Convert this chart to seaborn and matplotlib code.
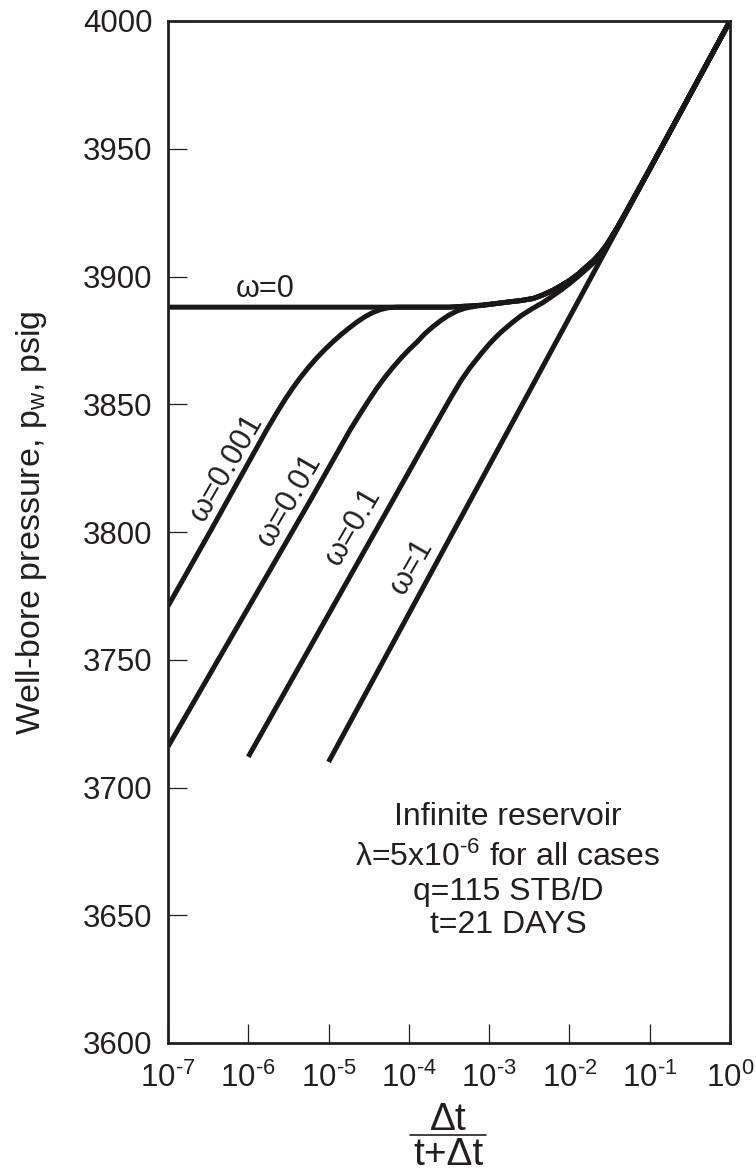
import numpy as np
import pandas as pd
import matplotlib
matplotlib.use("Agg")
import matplotlib.pyplot as plt
import seaborn as sns
from matplotlib.ticker import FixedLocator, FixedFormatter, NullLocator
from matplotlib.lines import Line2D

# ---------------- data ----------------
x_ticks = [1e-7, 1e-6, 1e-5, 1e-4, 1e-3, 1e-2, 1e-1, 1e0]
x_tick_labels = ["$10^{\u20107}$", "$10^{\u20106}$", "$10^{\u20105}$",
                 "$10^{\u20104}$", "$10^{\u20103}$", "$10^{\u20102}$",
                 "$10^{\u20101}$", "$10^{0}$"]
y_ticks = [3600, 3650, 3700, 3750, 3800, 3850, 3900, 3950, 4000]

# shared late-time part (plateau rising onto the straight line)
x_late = [8.51e-4, 1.82e-3, 2.51e-3, 3.55e-3, 4.68e-3, 6.31e-3, 7.94e-3,
          1.02e-2, 1.29e-2, 1.62e-2, 2.0e-2, 2.4e-2, 2.82e-2, 3.31e-2,
          3.98e-2, 5.01e-2, 1e-1, 1e0]
p_late = [3888.8, 3890.1, 3890.6, 3891.4, 3892.8, 3894.7, 3896.5,
          3898.6, 3901, 3903.8, 3906.3, 3909, 3911.8, 3915.2,
          3919.4, 3925, 3942, 4000]

# omega = 0
x_w0 = [1e-7, 3.16e-4] + x_late
p_w0 = [3888, 3888] + p_late

# omega = 0.001
x_w0001 = [1e-7, 3.44e-7, 1.69e-6, 2.24e-6, 2.82e-6, 3.55e-6, 4.47e-6,
           5.62e-6, 7.11e-6, 8.91e-6, 1.12e-5, 1.41e-5, 1.78e-5, 2.24e-5,
           2.82e-5, 3.55e-5, 4.47e-5, 5.62e-5, 7.08e-5, 3.16e-4] + x_late
p_w0001 = [3771, 3800.8, 3839.9, 3846.4, 3851.5, 3856.2, 3860.5,
           3864.4, 3868.1, 3871.3, 3874.3, 3877.1, 3879.7, 3882.1,
           3884.2, 3885.9, 3887.1, 3887.8, 3888, 3888] + p_late

# omega = 0.01
x_w001 = [1e-7, 5.96e-6, 1.85e-5, 2.51e-5, 3.16e-5, 3.98e-5, 5.01e-5,
          6.31e-5, 7.94e-5, 1.0e-4, 1.26e-4, 1.58e-4, 2.0e-4, 2.51e-4,
          3.16e-4, 3.98e-4, 5.01e-4, 6.31e-4] + x_late
p_w001 = [3716, 3812.5, 3839.9, 3846.6, 3851.5, 3856.2, 3860.5,
          3864.4, 3868, 3871.3, 3874.3, 3877.6, 3880.4, 3882.8,
          3884.9, 3886.5, 3887.6, 3888.2] + p_late

# omega = 0.1
x_w01 = [1.0e-6, 6.64e-5, 2.01e-4, 3.25e-4, 4.47e-4, 5.77e-4, 7.94e-4,
         1.02e-3, 1.26e-3, 1.50e-3, 2.0e-3, 2.51e-3, 3.39e-3, 4.68e-3,
         6.31e-3, 7.94e-3, 1.0e-2, 1.26e-2, 1.58e-2, 1.91e-2, 2.24e-2,
         2.82e-2, 3.31e-2, 3.98e-2, 5.01e-2, 1e-1, 1e0]
p_w01 = [3712, 3813.6, 3840.5, 3852, 3859.3, 3864.3, 3869.8,
         3873.8, 3876.8, 3879, 3882.3, 3884.7, 3887.3, 3889.8,
         3892.6, 3894.8, 3897.2, 3899.8, 3902.5, 3904.8, 3907,
         3911, 3914.5, 3919, 3924.6, 3942, 4000]

# omega = 1 (homogeneous straight line)
x_w1 = [1e-5, 1e-4, 1e-3, 1e-2, 1e-1, 1e0]
p_w1 = [3710, 3768, 3826, 3884, 3942, 4000]

curves = {"0": (x_w0, p_w0), "0.001": (x_w0001, p_w0001),
          "0.01": (x_w001, p_w001), "0.1": (x_w01, p_w01), "1": (x_w1, p_w1)}

frames = []
for name, (xs, ps) in curves.items():
    frames.append(pd.DataFrame({"ratio": xs, "pressure": ps, "omega": name}))
df = pd.concat(frames, ignore_index=True)

# ---------------- styling ----------------
sns.set_theme(style="white")
plt.rcParams["font.family"] = ["Liberation Sans", "DejaVu Sans"]
plt.rcParams["mathtext.fontset"] = "custom"
plt.rcParams["mathtext.rm"] = "Liberation Sans"
plt.rcParams["mathtext.it"] = "Liberation Sans"
plt.rcParams["mathtext.bf"] = "Liberation Sans:bold"
plt.rcParams["mathtext.default"] = "regular"

INK = "#231f20"
W, H = 756, 1171
fig = plt.figure(figsize=(W / 100, H / 100), dpi=100)
L, R, T, B = 168, 730, 21, 1043
ax = fig.add_axes([L / W, 1 - B / H, (R - L) / W, (B - T) / H])

sns.lineplot(data=df, x="ratio", y="pressure", units="omega", estimator=None,
             sort=False, color="black", linewidth=3.6, ax=ax, legend=False)
for ln in ax.get_lines():
    ln.set_solid_capstyle("butt")
    ln.set_solid_joinstyle("round")
    ln.set_color("#1a1718")

ax.set_xscale("log")
ax.set_xlim(1e-7, 1e0)
ax.set_ylim(3600, 4000)
ax.xaxis.set_major_locator(FixedLocator(x_ticks))
ax.xaxis.set_major_formatter(FixedFormatter(x_tick_labels))
ax.xaxis.set_minor_locator(NullLocator())
ax.yaxis.set_major_locator(FixedLocator(y_ticks))
ax.yaxis.set_minor_locator(NullLocator())
ax.tick_params(axis="both", direction="in", length=14, width=0.9,
               color=INK, labelsize=22.5, labelcolor=INK)
ax.tick_params(axis="x", pad=14)
ax.tick_params(axis="y", pad=11)
ax.tick_params(which="both", bottom=True, left=True, top=False, right=False)
for sp in ax.spines.values():
    sp.set_visible(True)
    sp.set_linewidth(2.0)
    sp.set_color(INK)
ax.set_xlabel("")
ax.set_ylabel("")
ax.grid(False)


def fpos(x, y):
    return x / W, 1 - y / H


# y label
fig.text(*fpos(32, 523), "Well-bore pressure, p$_w$, psig", rotation=90,
         ha="center", va="center", fontsize=24.5, color=INK)

# x label as a stacked fraction
fig.text(*fpos(448, 1120), "\u0394t", ha="center", va="center", fontsize=28,
         color=INK)
fig.add_artist(Line2D([410 / W, 486 / W], [1 - 1135 / H, 1 - 1135 / H],
                      transform=fig.transFigure, color=INK, lw=1.2))
fig.text(*fpos(448, 1155), "t+\u0394t", ha="center", va="center", fontsize=28,
         color=INK)

# curve labels
fig.text(*fpos(265, 289), "\u03c9=0", ha="center", va="center", fontsize=22,
         color=INK)
lab_kw = dict(ha="center", va="center", fontsize=22, rotation=60,
              rotation_mode="anchor", color=INK)
fig.text(*fpos(226, 468), "\u03c9=0.001", **lab_kw)
fig.text(*fpos(289, 500), "\u03c9=0.01", **lab_kw)
fig.text(*fpos(353, 527), "\u03c9=0.1", **lab_kw)
fig.text(*fpos(412, 567), "\u03c9=1", **lab_kw)

# annotation block
note_kw = dict(ha="center", va="baseline", fontsize=23, color=INK)
fig.text(*fpos(508, 825), "Infinite reservoir", **note_kw)
fig.text(*fpos(508, 866), "\u03bb=5x10$^{\u20106}$ for all cases", **note_kw)
fig.text(*fpos(508, 900), "q=115 STB/D", **note_kw)
fig.text(*fpos(508, 933), "t=21 DAYS", **note_kw)

fig.savefig("out.png", dpi=100, facecolor="white")
